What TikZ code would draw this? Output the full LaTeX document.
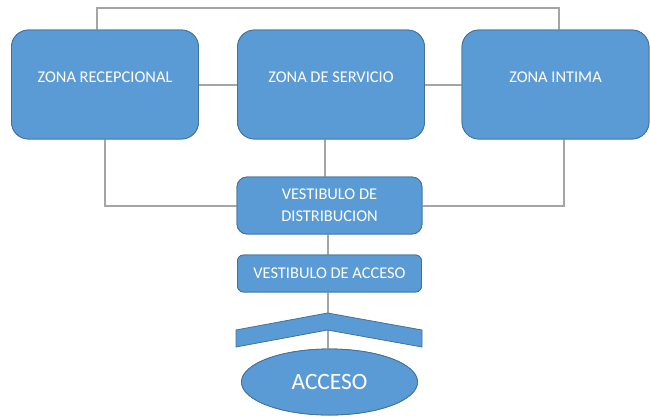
\documentclass[tikz,border=0pt]{standalone}
\usepackage{fontspec}
\setmainfont{Carlito}
\usetikzlibrary{shapes.geometric,calc}
\definecolor{boxblue}{HTML}{5B9BD5}
\definecolor{boxedge}{HTML}{41719C}
\definecolor{linegray}{HTML}{A5A5A5}
\tikzset{
  zone/.style={draw=boxedge, line width=0.8pt, fill=boxblue, rounded corners=17pt,
    minimum width=187pt, minimum height=109pt, text=white, font=\fontsize{16.4}{20}\selectfont,
    text height=12pt, text depth=17pt, inner sep=0pt},
  vest/.style={draw=boxedge, line width=0.8pt, fill=boxblue, text=white,
    font=\fontsize{16.4}{21.7}\selectfont, inner sep=0pt, align=center},
  vdbox/.style={vest, rounded corners=10pt, minimum width=185pt, minimum height=57pt},
  vabox/.style={vest, rounded corners=6pt, minimum width=184pt, minimum height=37pt},
  acbox/.style={ellipse, draw=boxedge, line width=0.8pt, fill=boxblue, minimum width=176pt,
    minimum height=66pt, inner sep=0pt, text=white, font=\fontsize{23.4}{28}\selectfont},
  conn/.style={draw=linegray, line width=2pt},
  chev/.style={draw=boxedge, line width=0.8pt, fill=boxblue},
}
\begin{document}
\begin{tikzpicture}[x=1pt,y=-1pt]
\useasboundingbox (0,0) rectangle (650,416);
\node[zone] (z1) at (105,84.5) {ZONA RECEPCIONAL};
\node[zone] (z2) at (331,84.5) {ZONA DE SERVICIO};
\node[zone] (z3) at (555.5,84.5) {ZONA INTIMA};
\node[vdbox] (vd) at (329.5,205.5) {VESTIBULO DE\\DISTRIBUCION};
\node[vabox] (va) at (329.5,273.5) {VESTIBULO DE ACCESO};
\node[acbox] (ac) at (329.5,382) {ACCESO};
% connectors
\draw[conn] ([xshift=-8pt]z1.north) -- ++(0,-22) -| ([xshift=3pt]z3.north);
\draw[conn] (z1.east) -- (z2.west);
\draw[conn] (z2.east) -- (z3.west);
\draw[conn] ([xshift=-6pt]z2.south) -- ([xshift=-4.5pt]vd.north);
\draw[conn] (z1.south) |- (vd.west);
\draw[conn] ([xshift=8pt]z3.south) |- (vd.east);
\draw[conn] ([xshift=-2pt]vd.south) -- ([xshift=-2pt]va.north);
\draw[conn] ([xshift=-2pt]va.south) -- ([xshift=-2pt]ac.north);
% redraw nodes over the connectors
\node[zone] at (z1) {ZONA RECEPCIONAL};
\node[zone] at (z2) {ZONA DE SERVICIO};
\node[zone] at (z3) {ZONA INTIMA};
\node[vdbox] at (vd) {VESTIBULO DE\\DISTRIBUCION};
\node[vabox] at (va) {VESTIBULO DE ACCESO};
\node[acbox] at (ac) {ACCESO};
% chevron
\coordinate (peak) at (327.5,313);
\coordinate (notch) at (327.5,330);
\path[chev] (236,330) -- (peak) -- (422,330) -- (422,347) -- (notch) -- (236,347) -- cycle;
\end{tikzpicture}
\end{document}
